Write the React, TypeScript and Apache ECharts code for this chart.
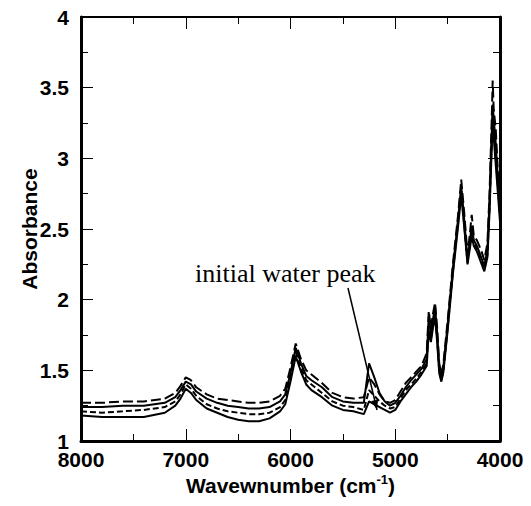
import React, { useEffect, useRef } from "react";
import * as echarts from "echarts";

const wavenumbers = [
  8000, 7800, 7600, 7400, 7200, 7100, 7050, 7000, 6950, 6900, 6800, 6700, 6600, 6500, 6400, 6300, 6200, 6100, 6050, 6000,
  5950, 5900, 5850, 5800, 5700, 5600, 5500, 5400, 5300, 5250, 5200, 5150, 5100, 5050, 5000, 4950, 4900, 4850, 4800, 4750,
  4700, 4680, 4660, 4640, 4620, 4600, 4580, 4560, 4540, 4500, 4450, 4400, 4370, 4340, 4310, 4290, 4270, 4250, 4220, 4180,
  4150, 4120, 4100, 4080, 4070, 4060, 4040, 4020, 4000,
];

const spectrumA = [
  1.27, 1.27, 1.28, 1.28, 1.30, 1.34, 1.39, 1.45, 1.43, 1.38, 1.33, 1.30, 1.29, 1.28, 1.27, 1.27, 1.28, 1.32, 1.37, 1.52,
  1.69, 1.58, 1.50, 1.47, 1.41, 1.34, 1.31, 1.30, 1.31, 1.45, 1.40, 1.33, 1.28, 1.27, 1.29, 1.35, 1.41, 1.45, 1.49, 1.53,
  1.62, 1.92, 1.80, 1.90, 1.98, 1.80, 1.55, 1.47, 1.55, 1.85, 2.25, 2.60, 2.85, 2.60, 2.32, 2.45, 2.60, 2.45, 2.42, 2.35,
  2.28, 2.40, 2.75, 3.25, 3.55, 3.35, 3.20, 2.90, 2.65,
];

const spectrumB = [
  1.24, 1.24, 1.25, 1.25, 1.27, 1.31, 1.36, 1.42, 1.40, 1.35, 1.30, 1.27, 1.25, 1.24, 1.23, 1.23, 1.24, 1.28, 1.33, 1.48,
  1.66, 1.55, 1.46, 1.43, 1.38, 1.31, 1.28, 1.27, 1.27, 1.55, 1.45, 1.34, 1.28, 1.25, 1.27, 1.32, 1.38, 1.43, 1.47, 1.51,
  1.58, 1.88, 1.76, 1.86, 1.95, 1.76, 1.52, 1.45, 1.53, 1.82, 2.22, 2.57, 2.80, 2.55, 2.28, 2.40, 2.52, 2.42, 2.38, 2.30,
  2.24, 2.35, 2.70, 3.15, 3.38, 3.28, 3.10, 2.85, 2.62,
];

const spectrumC = [
  1.21, 1.20, 1.21, 1.22, 1.24, 1.28, 1.33, 1.40, 1.37, 1.32, 1.26, 1.23, 1.21, 1.20, 1.19, 1.19, 1.20, 1.24, 1.29, 1.45,
  1.63, 1.52, 1.43, 1.40, 1.34, 1.28, 1.25, 1.24, 1.22, 1.36, 1.32, 1.28, 1.25, 1.23, 1.24, 1.30, 1.36, 1.40, 1.44, 1.49,
  1.55, 1.83, 1.72, 1.82, 1.92, 1.72, 1.50, 1.43, 1.50, 1.80, 2.20, 2.55, 2.77, 2.52, 2.26, 2.38, 2.48, 2.40, 2.36, 2.28,
  2.22, 2.32, 2.65, 3.10, 3.30, 3.22, 3.00, 2.80, 2.60,
];

const spectrumD = [
  1.18, 1.17, 1.17, 1.17, 1.20, 1.25, 1.30, 1.37, 1.34, 1.29, 1.23, 1.20, 1.17, 1.15, 1.14, 1.14, 1.16, 1.21, 1.26, 1.42,
  1.60, 1.49, 1.40, 1.36, 1.31, 1.25, 1.22, 1.21, 1.19, 1.28, 1.26, 1.24, 1.22, 1.20, 1.22, 1.28, 1.33, 1.38, 1.42, 1.47,
  1.53, 1.78, 1.70, 1.80, 1.88, 1.70, 1.48, 1.42, 1.49, 1.78, 2.18, 2.52, 2.74, 2.50, 2.25, 2.35, 2.45, 2.38, 2.34, 2.26,
  2.20, 2.30, 2.62, 3.05, 3.25, 3.15, 2.95, 2.75, 2.55,
];

const spectra = [
  { name: "A", values: spectrumA, dash: [10, 4] as number[] | "solid" },
  { name: "B", values: spectrumB, dash: "solid" as number[] | "solid" },
  { name: "C", values: spectrumC, dash: [6, 3] as number[] | "solid" },
  { name: "D", values: spectrumD, dash: "solid" as number[] | "solid" },
];

const xTicks = { min: 4000, max: 8000, interval: 1000 };
const yTicks = { min: 1, max: 4, interval: 0.5 };
const xTitle = "Wavewnumber (cm";
const xTitleSup = "-1";
const yTitle = "Absorbance";
const annotation = "initial water peak";

const SANS = "'Liberation Sans', Arial, Helvetica, sans-serif";
const SERIF = "'Liberation Serif', 'Times New Roman', serif";

export default function App() {
  const ref = useRef<HTMLDivElement>(null);
  useEffect(() => {
    if (!ref.current) return;
    const chart = echarts.init(ref.current, null, { renderer: "svg" });
    const labelStyle = { color: "#000", fontFamily: SANS, fontWeight: "bold" as const, fontSize: 21 };
    const baseX = {
      type: "value" as const,
      min: xTicks.min,
      max: xTicks.max,
      interval: xTicks.interval,
      inverse: true,
      splitLine: { show: false },
      axisTick: { show: true, inside: true, length: 12, lineStyle: { color: "#000", width: 1 } },
      minorTick: { show: true, splitNumber: 2, length: 7, lineStyle: { color: "#000", width: 1 } },
    };
    const baseY = {
      type: "value" as const,
      min: yTicks.min,
      max: yTicks.max,
      interval: yTicks.interval,
      splitLine: { show: false },
      axisTick: { show: true, inside: true, length: 12, lineStyle: { color: "#000", width: 1 } },
      minorTick: { show: true, splitNumber: 2, length: 7, lineStyle: { color: "#000", width: 1 } },
    };
    chart.setOption({
      animation: false,
      backgroundColor: "#fff",
      grid: { left: 81, right: 31, top: 17, bottom: 65 },
      xAxis: [
        {
          ...baseX,
          position: "bottom",
          axisLine: { onZero: false, lineStyle: { color: "#000", width: 3 } },
          axisLabel: { ...labelStyle, margin: 8, formatter: (v: number) => String(v) },
          name: `{n|${xTitle}}{s|${xTitleSup}}{n|)}`,
          nameLocation: "middle",
          nameGap: 32,
          nameMoveOverlap: false,
          nameTextStyle: {
            rich: {
              n: { ...labelStyle, lineHeight: 24 },
              s: { color: "#000", fontFamily: SANS, fontWeight: "bold", fontSize: 13, verticalAlign: "top", lineHeight: 24 },
            },
          },
        },
        {
          ...baseX,
          position: "top",
          axisLine: { onZero: false, lineStyle: { color: "#000", width: 2 } },
          axisLabel: { show: false },
        },
      ],
      yAxis: [
        {
          ...baseY,
          position: "left",
          axisLine: { onZero: false, lineStyle: { color: "#000", width: 3 } },
          axisLabel: { ...labelStyle, margin: 12 },
          name: yTitle,
          nameLocation: "middle",
          nameGap: 41,
          nameMoveOverlap: false,
          nameTextStyle: { ...labelStyle },
        },
        {
          ...baseY,
          position: "right",
          axisLine: { onZero: false, lineStyle: { color: "#000", width: 3 } },
          axisLabel: { show: false },
        },
      ],
      series: spectra.map((s) => ({
        name: s.name,
        type: "line",
        xAxisIndex: 0,
        yAxisIndex: 0,
        showSymbol: false,
        symbol: "none",
        lineStyle: { color: "#000", width: 2, type: s.dash },
        data: wavenumbers.map((w, i) => [w, s.values[i]]),
      })),
      graphic: [
        {
          type: "text",
          left: 195,
          top: 260,
          style: { text: annotation, fontFamily: SERIF, fontSize: 26, fill: "#000" },
        },
        {
          type: "line",
          shape: { x1: 348, y1: 288, x2: 377, y2: 410 },
          style: { stroke: "#000", lineWidth: 1.5 },
        },
        {
          type: "polygon",
          shape: { points: [[377, 410], [371.3, 401.1], [378.1, 399.5]] },
          style: { fill: "#000" },
        },
      ],
    });
    return () => chart.dispose();
  }, []);
  return <div ref={ref} style={{ position: "fixed", left: 0, top: 0, width: 531, height: 506 }} />;
}
